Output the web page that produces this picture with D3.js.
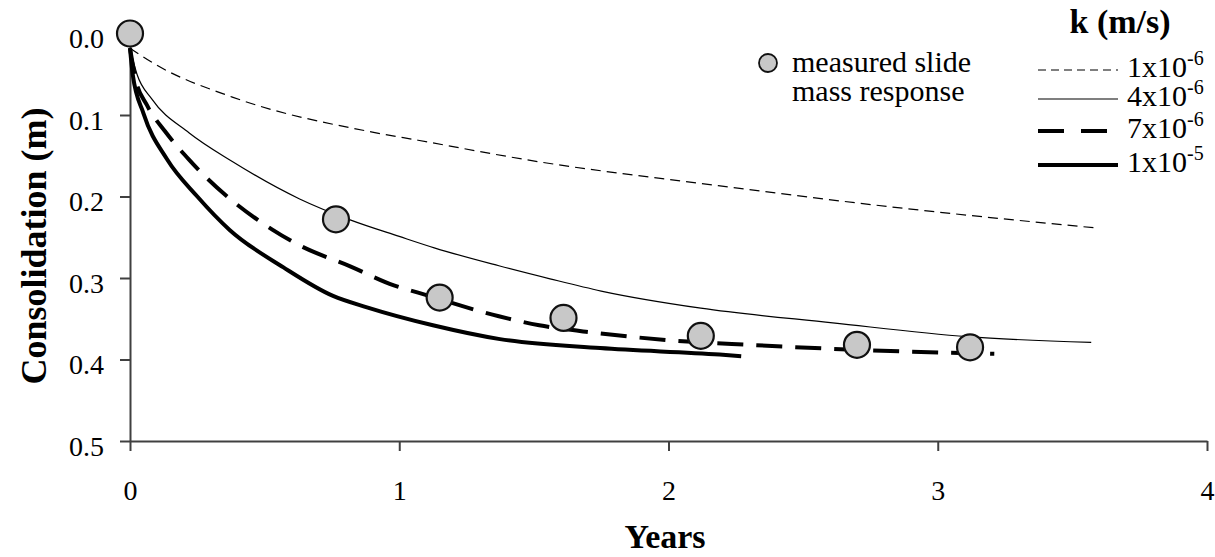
<!DOCTYPE html>
<html>
<head>
<meta charset="utf-8">
<script src="https://cdn.jsdelivr.net/npm/d3@7/dist/d3.min.js"></script>
<style>
  body { margin: 0; background: #fff; }
  svg { display: block; }
  svg text { font-family: "Liberation Serif", "Times New Roman", serif !important; fill: #000; }
</style>
</head>
<body>
<svg id="chart" width="1215" height="557"></svg>
<script>
// measured slide mass response (years, consolidation m)
var measured = [[0, 0], [0.765, 0.228], [1.15, 0.324], [1.61, 0.349], [2.12, 0.371], [2.7, 0.382], [3.12, 0.385]];

// model curves, one per permeability k (m/s)
var k1e6 = [[0, 0.018], [0.1, 0.039], [0.38, 0.078], [0.9, 0.121], [1.07, 0.131], [1.53, 0.158],
    [2.12, 0.184], [2.86, 0.214], [3.6, 0.239]];
var k4e6 = [[0, 0.018], [0.026, 0.05], [0.08, 0.08], [0.22, 0.122], [0.38, 0.157], [0.63, 0.203],
    [0.82, 0.229], [1.0, 0.249], [1.13, 0.263], [1.37, 0.285], [1.56, 0.301], [1.75, 0.316],
    [2.12, 0.337], [2.61, 0.355], [3.11, 0.372], [3.57, 0.379]];
var k7e6 = [[0, 0.018], [0.02, 0.055], [0.063, 0.088], [0.13, 0.12], [0.22, 0.155], [0.53, 0.241],
    [0.63, 0.26], [0.82, 0.286], [0.98, 0.309], [1.07, 0.318], [1.15, 0.326], [1.37, 0.347],
    [1.52, 0.358], [1.72, 0.367], [1.99, 0.376], [2.3, 0.382], [2.86, 0.39], [3.21, 0.393]];
var k1e5 = [[0, 0.018], [0.01, 0.05], [0.05, 0.098], [0.137, 0.154], [0.25, 0.2], [0.37, 0.241],
    [0.57, 0.287], [0.754, 0.322], [0.88, 0.336], [1.125, 0.358], [1.374, 0.375], [1.746, 0.386],
    [2.19, 0.394], [2.27, 0.396]];

var xTicks = [0, 1, 2, 3, 4];
var yTicks = [0, 0.1, 0.2, 0.3, 0.4, 0.5];
var legendMantissa = ["1x10", "4x10", "7x10", "1x10"];
var legendExponent = ["-6", "-6", "-6", "-5"];
var measuredLabel = ["measured slide", "mass response"];

var series = [
    {data: k1e6, width: 1.2, dash: "10,6"},
    {data: k4e6, width: 1.2, dash: null},
    {data: k7e6, width: 4, dash: "26,13"},
    {data: k1e5, width: 4, dash: null}
];

var svg = d3.select("#chart");
var axisColor = "#404040";

var x = d3.scaleLinear().domain([0, 4]).range([130, 1207]);
var y = d3.scaleLinear().domain([0, 0.5]).range([33.5, 441]);

// axes
var gx = svg.append("g")
    .attr("transform", "translate(0," + y(0.5) + ")")
    .call(d3.axisBottom(x).tickValues(xTicks).tickFormat(d3.format("d")).tickSize(10).tickSizeOuter(0));
gx.selectAll("text").attr("y", 59).attr("dy", null);

var gy = svg.append("g")
    .attr("transform", "translate(" + x(0) + ",0)")
    .call(d3.axisLeft(y).tickValues(yTicks).tickFormat(d3.format(".1f")).tickSize(10).tickSizeOuter(0).tickPadding(16));
gy.selectAll("text").attr("dy", "14px");

[gx, gy].forEach(function (g) {
    g.attr("font-family", null).attr("font-size", null);
    g.select(".domain").attr("stroke", axisColor).attr("stroke-width", 2);
    g.selectAll(".tick line").attr("stroke", axisColor).attr("stroke-width", 2);
    g.selectAll("text").style("font-size", "28px");
});

// titles
svg.append("text")
    .attr("x", 665).attr("y", 548)
    .attr("text-anchor", "middle")
    .style("font-size", "34px").style("font-weight", "bold")
    .text("Years");

svg.append("text")
    .attr("transform", "translate(46,246) rotate(-90)")
    .attr("text-anchor", "middle")
    .style("font-size", "36px").style("font-weight", "bold")
    .text("Consolidation (m)");

// curves
var line = d3.line()
    .x(function (d) { return x(d[0]); })
    .y(function (d) { return y(d[1]); })
    .curve(d3.curveMonotoneX);

series.forEach(function (s) {
    svg.append("path")
        .datum(s.data)
        .attr("d", line)
        .attr("fill", "none")
        .attr("stroke", "#000")
        .attr("stroke-width", s.width)
        .attr("stroke-dasharray", s.dash);
});

// measured points
svg.selectAll(".pt")
    .data(measured)
    .enter().append("circle")
    .attr("class", "pt")
    .attr("cx", function (d) { return x(d[0]); })
    .attr("cy", function (d) { return y(d[1]); })
    .attr("r", 13)
    .attr("fill", "#c8c8c8")
    .attr("stroke", "#111")
    .attr("stroke-width", 2.2);

// legend: measured (one text, two lines)
svg.append("circle")
    .attr("cx", 768).attr("cy", 63).attr("r", 9)
    .attr("fill", "#c8c8c8").attr("stroke", "#111").attr("stroke-width", 1.8);
var mt = svg.append("text").attr("y", 72).style("font-size", "30px");
measuredLabel.forEach(function (s, i) {
    mt.append("tspan").attr("x", 792).attr("dy", i ? 29 : 0).text(s);
});

// legend: k
svg.append("text")
    .attr("x", 1120).attr("y", 33)
    .attr("text-anchor", "middle")
    .style("font-size", "34px").style("font-weight", "bold")
    .text("k (m/s)");

var legendY = [70, 99, 131, 165];
var lt = svg.append("text").style("font-size", "30px");
series.forEach(function (s, i) {
    svg.append("line")
        .attr("x1", 1038).attr("x2", 1118)
        .attr("y1", legendY[i]).attr("y2", legendY[i])
        .attr("stroke", "#000")
        .attr("stroke-width", s.width)
        .attr("stroke-dasharray", s.dash ? (s.width > 2 ? "26,17" : "8,5") : null);
    lt.append("tspan").attr("x", 1127).attr("y", legendY[i] + 7).text(legendMantissa[i]);
    lt.append("tspan").attr("y", legendY[i] - 5).style("font-size", "20px").text(legendExponent[i]);
});
</script>
</body>
</html>
